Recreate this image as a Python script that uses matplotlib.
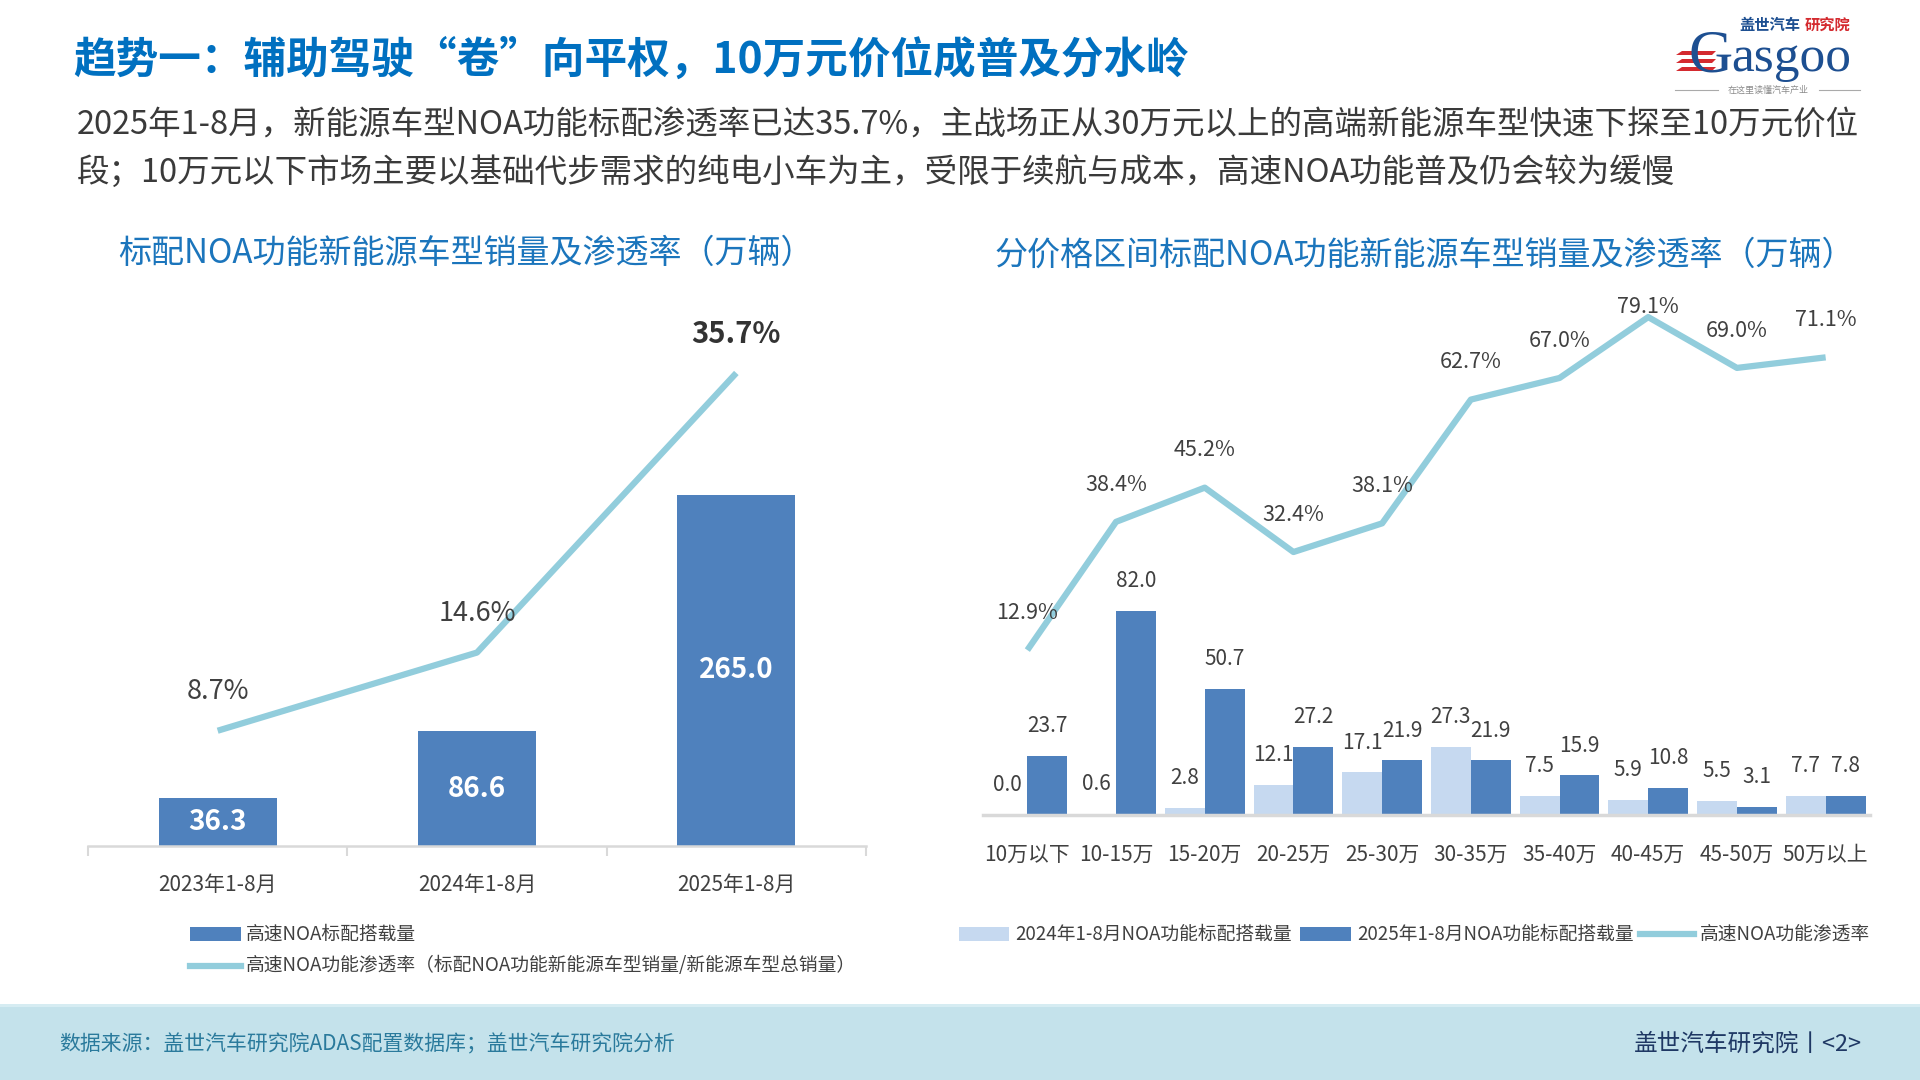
import matplotlib
matplotlib.use('Agg')
import matplotlib.pyplot as plt
from matplotlib.patches import Rectangle, Polygon
from matplotlib.lines import Line2D
import numpy as np

plt.rcParams['font.family'] = ['Noto Sans CJK SC', 'DejaVu Sans']

# ---------------- data ----------------
title = '趋势一：辅助驾驶“卷”向平权，10万元价位成普及分水岭'
subtitle_1 = '2025年1-8月，新能源车型NOA功能标配渗透率已达35.7%，主战场正从30万元以上的高端新能源车型快速下探至10万元价位'
subtitle_2 = '段；10万元以下市场主要以基础代步需求的纯电小车为主，受限于续航与成本，高速NOA功能普及仍会较为缓慢'

left_title = '标配NOA功能新能源车型销量及渗透率（万辆）'
left_categories = ['2023年1-8月', '2024年1-8月', '2025年1-8月']
left_volume = [36.3, 86.6, 265.0]
left_rate = [8.7, 14.6, 35.7]
left_legend = ['高速NOA标配搭载量', '高速NOA功能渗透率（标配NOA功能新能源车型销量/新能源车型总销量）']

right_title = '分价格区间标配NOA功能新能源车型销量及渗透率（万辆）'
right_categories = ['10万以下', '10-15万', '15-20万', '20-25万', '25-30万',
                    '30-35万', '35-40万', '40-45万', '45-50万', '50万以上']
vol_2024 = [0.0, 0.6, 2.8, 12.1, 17.1, 27.3, 7.5, 5.9, 5.5, 7.7]
vol_2025 = [23.7, 82.0, 50.7, 27.2, 21.9, 21.9, 15.9, 10.8, 3.1, 7.8]
rate_2025 = [12.9, 38.4, 45.2, 32.4, 38.1, 62.7, 67.0, 79.1, 69.0, 71.1]
right_legend = ['2024年1-8月NOA功能标配搭载量', '2025年1-8月NOA功能标配搭载量', '高速NOA功能渗透率']

source_text = '数据来源：盖世汽车研究院ADAS配置数据库；盖世汽车研究院分析'
footer_right = '盖世汽车研究院丨<2>'

# ---------------- style ----------------
DARK = '#4f81bd'
LIGHT = '#c6d9f0'
LINE = '#92cddc'
GRAY = '#404040'
AXIS = '#d9d9d9'
TITLE_BLUE = '#0070c0'
CHART_BLUE = '#1b75bc'

W, H = 1920, 1080
fig = plt.figure(figsize=(19.2, 10.8), dpi=100)
fig.patch.set_facecolor('white')


def fx(x):
    return x / W


def fy(y):
    return 1 - y / H


def add_ax(x0, x1, y_top, y_bot):
    return fig.add_axes([fx(x0), fy(y_bot), (x1 - x0) / W, (y_bot - y_top) / H])


# ---------------- header ----------------
fig.text(fx(73), fy(60), title, fontsize=30.7, fontweight='bold', color=TITLE_BLUE,
         ha='left', va='center')
fig.text(fx(77), fy(126), subtitle_1, fontsize=23.4, color='#3a3a3a', ha='left', va='center')
fig.text(fx(77), fy(172), subtitle_2, fontsize=23.4, color='#3a3a3a', ha='left', va='center')

# logo (approximation)
NAVY = '#1d4f91'
RED = '#d42a2f'
fig.text(fx(1739), fy(25), '盖世汽车', fontsize=11, fontweight='bold', color=NAVY, ha='left', va='center')
fig.text(fx(1805), fy(25), '研究院', fontsize=11, fontweight='bold', color=RED, ha='left', va='center')
fig.text(fx(1733), fy(71), 'G', fontsize=44, color=NAVY, family='Liberation Serif',
         ha='right', va='baseline')
fig.text(fx(1731), fy(71), 'asgoo', fontsize=37, color=NAVY, family='Liberation Serif',
         ha='left', va='baseline')
for (ya, yb) in [(51, 55), (59, 63), (67, 71)]:
    poly = Polygon([[fx(1682), fy(ya)], [fx(1716), fy(ya)], [fx(1712), fy(yb)], [fx(1676), fy(yb)]],
                   closed=True, transform=fig.transFigure, facecolor=RED, edgecolor='none')
    fig.add_artist(poly)
fig.text(fx(1768), fy(90), '在这里读懂汽车产业', fontsize=6.5, color='#8a8a8a', ha='center', va='center')
fig.add_artist(Line2D([fx(1675), fx(1718)], [fy(90), fy(90)], transform=fig.transFigure,
                      color='#aaaaaa', lw=0.8))
fig.add_artist(Line2D([fx(1819), fx(1860)], [fy(90), fy(90)], transform=fig.transFigure,
                      color='#aaaaaa', lw=0.8))

# ---------------- left chart ----------------
fig.text(fx(118), fy(253), left_title, fontsize=23.8, color=CHART_BLUE, ha='left', va='center')

axL = add_ax(88, 866, 316, 846)
xl = np.arange(len(left_categories))
axL.bar(xl, left_volume, width=0.455, color=DARK, zorder=2)
axL.set_xlim(-0.5, len(left_categories) - 0.5)
axL.set_ylim(0, 400)
for s in ['left', 'right', 'top']:
    axL.spines[s].set_visible(False)
axL.spines['bottom'].set_color(AXIS)
axL.spines['bottom'].set_linewidth(1.8)
axL.set_yticks([])
axL.set_xticks(xl)
axL.set_xticklabels(left_categories, fontsize=15, color=GRAY)
axL.tick_params(axis='x', which='major', length=0, pad=20)
axL.set_xticks(np.arange(-0.5, len(left_categories)), minor=True)
axL.tick_params(axis='x', which='minor', length=7, width=1.5, color=AXIS, direction='out')
axL.patch.set_alpha(0)
for xi, v in zip(xl, left_volume):
    axL.text(xi, v / 2, f'{v:.1f}', ha='center', va='center', color='white',
             fontsize=20, fontweight='bold', zorder=3)

axL2 = axL.twinx()
axL2.plot(xl, left_rate, color=LINE, lw=4.5, solid_capstyle='butt', zorder=3, clip_on=False)
axL2.set_ylim(0, 40)
axL2.set_yticks([])
for s in ['left', 'right', 'top', 'bottom']:
    axL2.spines[s].set_visible(False)
for i, (xi, v) in enumerate(zip(xl, left_rate)):
    last = i == len(left_rate) - 1
    axL2.annotate(f'{v:.1f}%', (xi, v), xytext=(0, 28), textcoords='offset points',
                  ha='center', va='center', color='#333333' if last else GRAY,
                  fontsize=21 if last else 19.5, fontweight='bold' if last else 'normal',
                  annotation_clip=False)

# left legend
fig.add_artist(Rectangle((fx(190), fy(941)), (241 - 190) / W, 14 / H, transform=fig.transFigure,
                         facecolor=DARK, edgecolor='none'))
fig.text(fx(246), fy(934), left_legend[0], fontsize=13.5, color=GRAY, ha='left', va='center')
fig.add_artist(Line2D([fx(190), fx(241)], [fy(966), fy(966)], transform=fig.transFigure,
                      color=LINE, lw=4.5))
fig.text(fx(246), fy(966), left_legend[1], fontsize=13.5, color=GRAY, ha='left', va='center')

# ---------------- right chart ----------------
fig.text(fx(994), fy(255), right_title, fontsize=23.8, color=CHART_BLUE, ha='left', va='center')

axR = add_ax(983, 1870, 300, 815)
xr = np.arange(len(right_categories))
bw = 0.45
axR.bar(xr - bw / 2, vol_2024, width=bw, color=LIGHT, zorder=2)
axR.bar(xr + bw / 2, vol_2025, width=bw, color=DARK, zorder=2)
axR.set_xlim(-0.5, len(right_categories) - 0.5)
axR.set_ylim(0, 206.8)
for s in ['left', 'right', 'top']:
    axR.spines[s].set_visible(False)
axR.spines['bottom'].set_color(AXIS)
axR.spines['bottom'].set_linewidth(2.5)
axR.set_yticks([])
axR.set_xticks(xr)
axR.set_xticklabels(right_categories, fontsize=15, color=GRAY)
axR.tick_params(axis='x', length=0, pad=21)
axR.patch.set_alpha(0)
for xi, v in zip(xr, vol_2024):
    axR.annotate(f'{v:.1f}', (xi - bw / 2, v), xytext=(0, 21.5), textcoords='offset points',
                 ha='center', va='center', color=GRAY, fontsize=15, annotation_clip=False)
for xi, v in zip(xr, vol_2025):
    axR.annotate(f'{v:.1f}', (xi + bw / 2, v), xytext=(0, 21.5), textcoords='offset points',
                 ha='center', va='center', color=GRAY, fontsize=15, annotation_clip=False)

axR2 = axR.twinx()
axR2.plot(xr, rate_2025, color=LINE, lw=4.5, solid_capstyle='butt', zorder=3, clip_on=False)
axR2.set_ylim(-19.88, 82.5)
axR2.set_yticks([])
for s in ['left', 'right', 'top', 'bottom']:
    axR2.spines[s].set_visible(False)
label_top = axR2.get_ylim()[1] - 1.4
for xi, v in zip(xr, rate_2025):
    axR2.text(xi, min(v + 7.4, label_top), f'{v:.1f}%', ha='center', va='center',
              color=GRAY, fontsize=15.5, clip_on=False)

# right legend
fig.add_artist(Rectangle((fx(959), fy(941)), (1009 - 959) / W, 14 / H, transform=fig.transFigure,
                         facecolor=LIGHT, edgecolor='none'))
fig.text(fx(1015), fy(934), right_legend[0], fontsize=13.5, color=GRAY, ha='left', va='center')
fig.add_artist(Rectangle((fx(1300), fy(941)), (1351 - 1300) / W, 14 / H, transform=fig.transFigure,
                         facecolor=DARK, edgecolor='none'))
fig.text(fx(1357), fy(934), right_legend[1], fontsize=13.5, color=GRAY, ha='left', va='center')
fig.add_artist(Line2D([fx(1640), fx(1694)], [fy(934), fy(934)], transform=fig.transFigure,
                      color=LINE, lw=4.5))
fig.text(fx(1700), fy(934), right_legend[2], fontsize=13.5, color=GRAY, ha='left', va='center')

# ---------------- footer ----------------
fig.add_artist(Rectangle((0, 0), 1, (1080 - 1004) / H, transform=fig.transFigure,
                         facecolor='#c4e2eb', edgecolor='none', zorder=0))
fig.add_artist(Rectangle((0, fy(1007)), 1, 3 / H, transform=fig.transFigure,
                         facecolor='#d6ecf2', edgecolor='none', zorder=0))
fig.text(fx(59), fy(1044), source_text, fontsize=15, color='#2a7a9c', ha='left', va='center',
         style='italic')
fig.text(fx(1862), fy(1044), footer_right, fontsize=17, color='#1f3864', ha='right', va='center')

fig.savefig('out.png', dpi=100)
